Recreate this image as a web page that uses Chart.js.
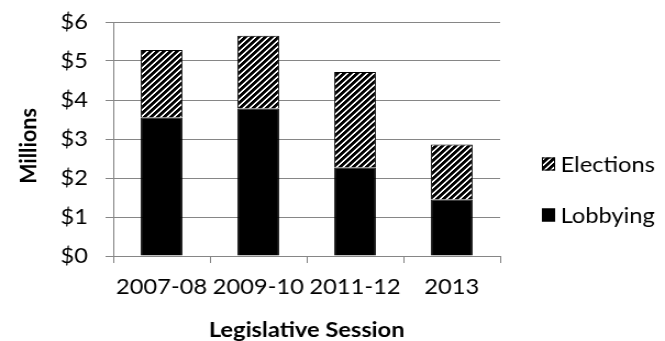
<!DOCTYPE html>
<html>
<head>
<meta charset="utf-8">
<script src="https://cdn.jsdelivr.net/npm/chart.js@4/dist/chart.umd.min.js"></script>
<style>
  html, body { margin: 0; padding: 0; background: #fff; overflow: hidden; }
  /* the drawing is laid out on a narrower canvas and widened to the full page */
  #wrap { width: 605px; height: 341px; transform: scaleX(1.0992); transform-origin: 0 0; }
</style>
</head>
<body>
<div id="wrap"><canvas id="c" width="605" height="341"></canvas></div>
<script>
// Spending by legislative session, in millions of dollars
const sessions = ['2007-08', '2009-10', '2011-12', '2013'];
const lobbying = [3.55, 3.78, 2.27, 1.45];
const elections = [1.73, 1.87, 2.45, 1.41];
const yTickValues = [0, 1, 2, 3, 4, 5, 6];
const seriesNames = ['Lobbying', 'Elections'];
const yTitle = 'Millions';
const xTitle = 'Legislative Session';

const FONT = 'Lato';
const SIZE = 21.5;
const GRID = '#868686';

// black "/" stripes on white, built pixel by pixel
function stripePattern() {
  const n = 6;
  const t = document.createElement('canvas');
  t.width = n; t.height = n;
  const g = t.getContext('2d');
  g.fillStyle = '#fff';
  g.fillRect(0, 0, n, n);
  for (let y = 0; y < n; y++) {
    for (let x = 0; x < n; x++) {
      const k = (x + y) % n;
      if (k < 3) { g.fillStyle = '#000'; g.fillRect(x, y, 1, 1); }
      else if (k === 3) { g.fillStyle = '#2a2a2a'; g.fillRect(x, y, 1, 1); }
    }
  }
  return g.createPattern(t, 'repeat');
}

// legend drawn at the right side, top entry = top of the stack
const sideLegend = {
  id: 'sideLegend',
  afterDraw(chart, args, o) {
    const ctx = chart.ctx;
    const list = chart.data.datasets.slice().reverse();
    ctx.save();
    ctx.font = o.size + 'px ' + FONT;
    ctx.textBaseline = 'middle';
    ctx.textAlign = 'left';
    list.forEach((ds, i) => {
      const cy = o.y + i * o.spacing;
      ctx.fillStyle = ds.backgroundColor;
      ctx.fillRect(o.x, cy - o.boxH / 2, o.boxW, o.boxH);
      ctx.strokeStyle = '#000';
      ctx.lineWidth = 1;
      ctx.strokeRect(o.x + 0.5, cy - o.boxH / 2 + 0.5, o.boxW - 1, o.boxH - 1);
      ctx.fillStyle = '#000';
      ctx.fillText(ds.label, o.x + o.boxW + o.gap, cy + 1);
    });
    ctx.restore();
  }
};

// rotated value-axis title, placed a little below the middle of the plot
const sideTitle = {
  id: 'sideTitle',
  afterDraw(chart, args, o) {
    const ctx = chart.ctx;
    ctx.save();
    ctx.translate(o.x, o.y);
    ctx.rotate(-Math.PI / 2);
    ctx.font = 'bold ' + o.size + 'px ' + FONT;
    ctx.textAlign = 'center';
    ctx.textBaseline = 'middle';
    ctx.fillStyle = '#000';
    ctx.fillText(o.text, 0, 0);
    ctx.restore();
  }
};

new Chart(document.getElementById('c'), {
  type: 'bar',
  data: {
    labels: sessions,
    datasets: [
      { label: seriesNames[0], data: lobbying, backgroundColor: '#000', borderColor: '#000', borderWidth: 1 },
      { label: seriesNames[1], data: elections, backgroundColor: stripePattern(), borderColor: '#000', borderWidth: 1 }
    ]
  },
  options: {
    responsive: false,
    animation: false,
    devicePixelRatio: 1,
    layout: { padding: { left: 0, right: 150, top: 22, bottom: 0 } },
    datasets: { bar: { categoryPercentage: 1, barPercentage: 0.43 } },
    plugins: {
      legend: { display: false },
      tooltip: { enabled: false },
      sideLegend: { x: 493, y: 164, spacing: 51, boxW: 12, boxH: 13, gap: 5, size: SIZE },
      sideTitle: { text: yTitle, x: 26, y: 146, size: SIZE }
    },
    scales: {
      x: {
        stacked: true,
        afterFit(s) { s.height = 85; },
        grid: { offset: true, drawOnChartArea: false, drawTicks: true, tickLength: 7, color: GRID, lineWidth: 1 },
        border: { color: GRID, width: 1 },
        ticks: { color: '#000', font: { family: FONT, size: SIZE }, padding: 11, maxRotation: 0, autoSkip: false },
        title: { display: true, text: xTitle, color: '#000', font: { family: FONT, size: SIZE, weight: 'bold', lineHeight: 1 }, padding: { top: 0, bottom: 0 } }
      },
      y: {
        stacked: true,
        min: 0,
        max: 6,
        afterFit(s) { s.width = 103; s.paddingTop = 0; s.paddingBottom = 0; },
        afterBuildTicks(s) { s.ticks = yTickValues.map(v => ({ value: v })); },
        grid: { drawTicks: true, tickLength: 7, color: GRID, lineWidth: 1 },
        border: { color: GRID, width: 1 },
        ticks: { color: '#000', font: { family: FONT, size: SIZE }, padding: 16, callback: v => '$' + v }
      }
    }
  },
  plugins: [sideLegend, sideTitle]
});
</script>
</body>
</html>
